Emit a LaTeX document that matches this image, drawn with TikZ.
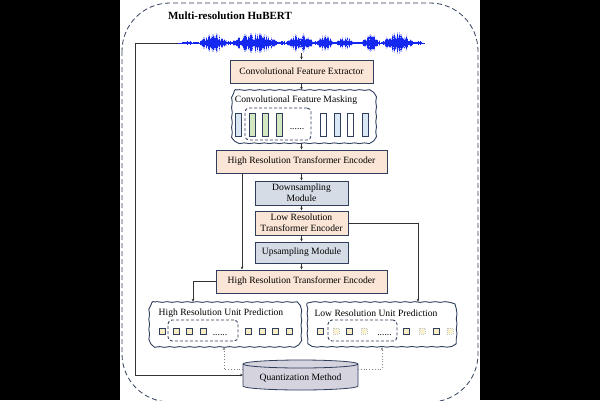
\documentclass[tikz,border=0pt]{standalone}
\usepackage{fontspec}
\setmainfont{Liberation Serif}
\usetikzlibrary{arrows.meta,decorations.pathmorphing}
\definecolor{navy}{HTML}{2F3E5C}
\definecolor{peach}{HTML}{FBE5D6}
\definecolor{bluegray}{HTML}{D6DCE5}
\definecolor{lblue}{HTML}{DAE8F5}
\definecolor{lgreen}{HTML}{D3E8C0}
\definecolor{pyellow}{HTML}{F9EDC4}
\definecolor{cylc}{HTML}{D5D3DE}
\definecolor{wblue}{HTML}{1428F0}
% wavy rounded rectangle: x1 y1 x2 y2 (y measured downwards, in pt)
\newcommand\wavyrect[4]{%
  \draw[wavyline] ({#1pt+7pt},{-#2pt}) -- ({#3pt-7pt},{-#2pt})
    arc[start angle=90,end angle=0,radius=7pt] -- ({#3pt},{-#4pt+7pt})
    arc[start angle=0,end angle=-90,radius=7pt] -- ({#1pt+7pt},{-#4pt})
    arc[start angle=270,end angle=180,radius=7pt] -- ({#1pt},{-#2pt-7pt})
    arc[start angle=180,end angle=90,radius=7pt] -- cycle;}
\begin{document}
\begin{tikzpicture}[x=1pt,y=-1pt,
  font=\fontsize{9.6}{11}\selectfont,
  box/.style={draw=navy, line width=0.9pt, inner sep=0pt, align=center},
  peachbox/.style={box, fill=peach},
  graybox/.style={box, fill=bluegray},
  wavyline/.style={draw=navy, line width=0.9pt, fill=white, line join=round,
    decorate, decoration={snake, amplitude=0.35pt, segment length=10pt}},
  anchorbox/.style={inner sep=0pt},
  conn/.style={draw=black!80, line width=0.7pt},
  arr/.style={conn, -{Stealth[length=3pt,width=2.6pt]}},
  dotarr/.style={draw=gray, line width=0.8pt, dotted, -{Stealth[length=3pt,width=2.6pt]}},
  bar/.style={draw=navy, line width=0.7pt, minimum width=6pt, minimum height=23pt, inner sep=0pt},
  sq/.style={draw=navy, line width=0.6pt, fill=pyellow, minimum size=6pt, inner sep=0pt},
  ghost/.style={draw=navy!30, line width=0.5pt, dash pattern=on 1pt off 1pt, fill=pyellow!80, minimum size=6pt, inner sep=0pt},
  grp/.style={draw=navy, dash pattern=on 3pt off 2pt, line width=0.9pt, rounded corners=4pt, inner sep=0pt},
  dots/.style={anchor=base, inner sep=0pt},
]
% background
\fill[black] (0,0) rectangle (600,400);
\fill[white] (120,0) rectangle (480,400);
\useasboundingbox (0,0) rectangle (600,400);
\begin{scope}
\clip (120,0) rectangle (480,400);
\draw[navy, line width=0.8pt, dash pattern=on 5pt off 3pt, rounded corners=48pt] (122,3) rectangle (478,402);
\end{scope}

\node[font=\fontsize{11}{13}\selectfont\bfseries] (title) at (230,16) {Multi-resolution HuBERT};

% waveform
\coordinate (wL) at (178,43);
\coordinate (wR) at (425,43);
\coordinate (wB) at (301.5,53);
\pgfmathsetseed{12}
\draw[wblue, line width=0.5pt] (wL) -- (wR);
\foreach \a/\b/\m in {200/227/8, 233/277/9, 288/313/8, 317/333/7, 337/353/6, 362/380/7, 383/413/9}{
  \pgfmathtruncatemacro\n{(\b-\a)/0.7}
  \foreach \i in {0,...,\n}{
    \pgfmathsetmacro\xx{\a+\i*0.7}
    \pgfmathsetmacro\h{\m*(0.25+0.75*sin(180*\i/\n))*(0.3+0.7*rnd)}
    \draw[wblue!30, line width=0.6pt] (\xx,43-\h*1.3) -- (\xx,43+\h*1.3);
    \draw[wblue, line width=0.45pt] (\xx,43-\h) -- (\xx,43+\h);
  }
}
\foreach \a/\b in {182/200, 227/233, 277/288, 313/317, 333/337, 353/362, 380/383, 413/422}{
  \pgfmathtruncatemacro\n{(\b-\a)/0.8}
  \foreach \i in {0,...,\n}{
    \pgfmathsetmacro\xx{\a+\i*0.8}
    \pgfmathsetmacro\h{0.4+1.2*rnd}
    \draw[wblue, line width=0.4pt] (\xx,43-\h) -- (\xx,43+\h);
  }
}

% main column
\node[peachbox, minimum width=143pt, minimum height=23pt] (cfe) at (301.5,71.5) {Convolutional Feature Extractor};
\wavyrect{229.5}{90}{373.5}{143}
\node[anchorbox, minimum width=144pt, minimum height=53pt] (cfm) at (301.5,116.5) {};
\node (cfmt) at (296,100) {Convolutional Feature Masking};
\node[grp, minimum width=66pt, minimum height=32pt] (mgrp) at (278,124) {};
\node[bar, fill=lblue] (b1) at (238,124.5) {};
\node[bar, fill=lgreen] (b2) at (252,124.5) {};
\node[bar, fill=lgreen] (b3) at (265,124.5) {};
\node[bar, fill=lgreen] (b4) at (279,124.5) {};
\node[dots] (mdots) at (297,129.5) {......};
\node[bar, fill=white] (b5) at (323.5,124.5) {};
\node[bar, fill=lblue] (b6) at (337,124.5) {};
\node[bar, fill=white] (b7) at (350.5,124.5) {};
\node[bar, fill=lblue] (b8) at (365,124.5) {};

\node[peachbox, minimum width=171pt, minimum height=23pt] (hrte1) at (301.5,161.5) {High Resolution Transformer Encoder};
\node[graybox, minimum width=93pt, minimum height=24pt] (down) at (301.5,193) {Downsampling\\Module};
\node[peachbox, minimum width=93pt, minimum height=24pt] (low) at (301.5,223) {Low Resolution\\Transformer Encoder};
\node[graybox, minimum width=93pt, minimum height=21pt] (up) at (301.5,252.5) {Upsampling Module};
\node[peachbox, minimum width=171pt, minimum height=23pt] (hrte2) at (301.5,281.5) {High Resolution Transformer Encoder};

% prediction boxes
\wavyrect{147}{302}{299}{347}
\node[anchorbox, minimum width=152pt, minimum height=45pt] (hrup) at (223,324.5) {};
\node (hrupt) at (221,313) {High Resolution Unit Prediction};
\node[grp, minimum width=70pt, minimum height=21pt] (hgrp) at (203,330.5) {};
\foreach \x/\nm in {162/h1,176/h2,189/h3,203/h4,248/h5,262/h6,275/h7,289/h8}
  \node[sq] (\nm) at (\x,331) {};
\node[dots] (hdots) at (220,335) {......};

\wavyrect{305}{302}{454}{347}
\node[anchorbox, minimum width=149pt, minimum height=45pt] (lrup) at (379.5,324.5) {};
\node (lrupt) at (376,313) {Low Resolution Unit Prediction};
\node[grp, minimum width=69pt, minimum height=21pt] (lgrp) at (362.5,330.5) {};
\foreach \x/\nm in {320/l1,349/l3,406/l5,436/l7}
  \node[sq] (\nm) at (\x,331) {};
\foreach \x/\nm in {336/l2,364/l4,422/l6,450/l8}
  \node[ghost] (\nm) at (\x,331) {};
\node[dots] (ldots) at (384.5,335) {......};

% quantization cylinder
\filldraw[fill=cylc, draw=navy, line width=0.8pt]
  (243pt,-364pt) -- (243pt,-386pt)
  arc[start angle=180, end angle=360, x radius=57.5pt, y radius=4pt]
  -- (358pt,-364pt)
  arc[start angle=0, end angle=180, x radius=57.5pt, y radius=4pt] -- cycle;
\draw[navy, line width=0.8pt] (243pt,-364pt) arc[start angle=180, end angle=360, x radius=57.5pt, y radius=4pt];
\node (quant) at (300.5,378) {Quantization Method};
\coordinate (qL) at (243,375);
\coordinate (qLd) at (243,369);
\coordinate (qRd) at (358,369);

% connectors
\draw[arr] (wB) -- (wB |- cfe.north);
\draw[arr] (cfe.south) -- (cfm.north);
\draw[arr] (cfm.south) -- (hrte1.north);
\draw[arr] (hrte1.south) -- (down.north);
\draw[arr] (down.south) -- (low.north);
\draw[arr] (low.south) -- (up.north);
\draw[arr] (up.south) -- (hrte2.north);
\draw[arr] ([xshift=-59.5pt]hrte1.south) -- ([xshift=-59.5pt]hrte2.north);
\draw[arr] (low.east) -| ([xshift=38.5pt]lrup.north);
\draw[arr] (hrte2.west) -| ([xshift=-30pt]hrup.north);
\draw[arr] (wL) -- ++(-43,0) |- (qL);
\draw[dotarr] (qLd) -| ([xshift=1pt]hrup.south);
\draw[dotarr] (qRd) -| ([xshift=2.5pt]lrup.south);
\end{tikzpicture}
\end{document}
